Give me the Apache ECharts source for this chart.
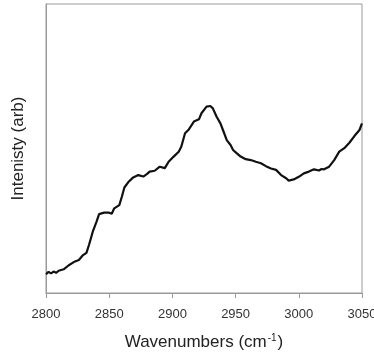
<!DOCTYPE html>
<html>
<head>
<meta charset="utf-8">
<script src="https://cdn.jsdelivr.net/npm/echarts@6/dist/echarts.min.js"></script>
<style>
  html, body { margin: 0; padding: 0; background: #fff; }
  #chart { width: 374px; height: 354px; }
</style>
</head>
<body>
<div id="chart"></div>
<script>
// wavenumbers (cm-1) and intensity (arb)
const wavenumbers = [
  2800, 2802, 2804, 2806, 2808, 2810, 2814, 2818, 2822, 2826, 2829, 2832,
  2834, 2837, 2840, 2842, 2846, 2850, 2852, 2854, 2858, 2860, 2862, 2865,
  2869, 2873, 2877, 2880, 2882, 2886, 2890, 2894, 2897, 2901, 2905, 2907,
  2910, 2913, 2917, 2921, 2923, 2927, 2930, 2932, 2935, 2938, 2940, 2943,
  2946, 2948, 2951, 2954, 2958, 2962, 2966, 2970, 2974, 2978, 2982, 2986,
  2990, 2992, 2996, 3000, 3004, 3008, 3012, 3016, 3018, 3020, 3024, 3028,
  3032, 3036, 3040, 3044, 3048, 3050
];
const intensity = [
  6.5, 7.3, 6.8, 7.4, 7.0, 7.7, 8.2, 9.6, 10.7, 11.4, 13.0, 13.9,
  16.6, 21.2, 24.7, 27.3, 27.8, 27.8, 27.4, 29.3, 30.4, 33.3, 36.5, 38.3,
  40.0, 40.8, 40.3, 41.2, 42.0, 42.3, 43.7, 43.2, 45.4, 47.2, 48.9, 50.6,
  55.3, 56.6, 59.3, 60.1, 62.2, 64.5, 64.7, 63.9, 61.0, 58.7, 56.4, 52.9,
  51.2, 49.5, 48.3, 47.2, 46.3, 46.0, 45.4, 44.9, 43.9, 43.1, 42.6, 40.8,
  39.7, 38.9, 39.3, 40.2, 41.4, 42.0, 42.8, 42.4, 42.9, 42.8, 43.7, 46.0,
  48.9, 50.1, 52.0, 54.3, 56.4, 58.7
];
const xTicks = [2800, 2850, 2900, 2950, 3000, 3050];

const chart = echarts.init(document.getElementById('chart'));
chart.setOption({
  animation: false,
  grid: {
    left: 46, right: 12, top: 4, bottom: 61,
    outerBoundsMode: 'none',
    show: true, borderColor: '#9a9a9a', borderWidth: 1
  },
  xAxis: {
    type: 'value',
    min: xTicks[0],
    max: xTicks[xTicks.length - 1],
    interval: 50,
    name: 'Wavenumbers (cm{sup|-1})',
    nameLocation: 'middle',
    nameGap: 40,
    nameTextStyle: {
      fontFamily: 'Liberation Sans', fontSize: 17, color: '#222',
      rich: { sup: { fontFamily: 'Liberation Sans', fontSize: 10, color: '#222', verticalAlign: 'top', padding: [0, 1, 9, 1] } }
    },
    axisLine: { show: true, lineStyle: { color: '#9a9a9a', width: 1 } },
    axisTick: { show: true, inside: false, length: 5, lineStyle: { color: '#9a9a9a' } },
    axisLabel: {
      fontFamily: 'Liberation Sans', fontSize: 13, color: '#333', margin: 15,
      formatter: v => String(v)
    },
    splitLine: { show: false }
  },
  yAxis: {
    type: 'value',
    min: 0,
    max: 100,
    name: 'Intenisty (arb)',
    nameLocation: 'middle',
    nameGap: 19,
    nameRotate: 90,
    nameTextStyle: { fontFamily: 'Liberation Sans', fontSize: 17, color: '#222' },
    axisLine: { show: true, lineStyle: { color: '#9a9a9a', width: 1 } },
    axisTick: { show: false },
    axisLabel: { show: false },
    splitLine: { show: false }
  },
  series: [{
    type: 'line',
    data: wavenumbers.map((w, i) => [w, intensity[i]]),
    showSymbol: false,
    lineStyle: { color: '#111', width: 2.2 }
  }]
});
</script>
</body>
</html>
